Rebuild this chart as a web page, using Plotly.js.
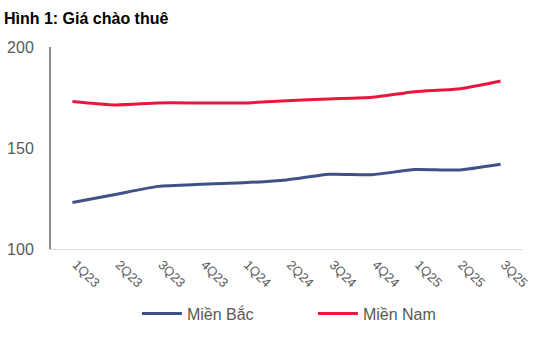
<!DOCTYPE html>
<html>
<head>
<meta charset="utf-8">
<script src="https://cdn.plot.ly/plotly-3.0.1.min.js"></script>
<style>html,body{margin:0;padding:0;background:#fff;}#chart{width:559px;height:343px;}</style>
</head>
<body>
<div id="chart"></div>
<script>
const quarters = ["1Q23","2Q23","3Q23","4Q23","1Q24","2Q24","3Q24","4Q24","1Q25","2Q25","3Q25"];
const mienBac = [123, 127, 131, 132, 132.8, 134.2, 137, 136.8, 139.3, 139.1, 142];
const mienNam = [173, 171.3, 172.3, 172.3, 172.3, 173.4, 174.3, 175.1, 177.9, 179.2, 183.2];

const traces = [
  {x: quarters, y: mienBac, name: "Miền Bắc", type: "scatter", mode: "lines",
   line: {color: "#3F5288", width: 3, shape: "spline", smoothing: 0.6}},
  {x: quarters, y: mienNam, name: "Miền Nam", type: "scatter", mode: "lines",
   line: {color: "#E8173F", width: 3, shape: "spline", smoothing: 0.6}}
];

const layout = {
  width: 559, height: 343,
  margin: {l: 51, r: 37, t: 47, b: 94, autoexpand: false},
  paper_bgcolor: "#fff", plot_bgcolor: "#fff",
  font: {family: "Liberation Sans, Arial, sans-serif", color: "#595959"},
  title: {text: "<b>Hình 1: Giá chào thuê</b>", x: 0.007, xanchor: "left", y: 0.945, yanchor: "middle",
          font: {size: 16, color: "#000", family: "Liberation Sans, Arial, sans-serif"}},
  showlegend: true,
  legend: {orientation: "h", x: 0.556, xanchor: "center", y: -0.32, yanchor: "middle",
           font: {size: 16, color: "#595959"}, itemwidth: 40, traceorder: "normal",
           entrywidth: 121, entrywidthmode: "pixels"},
  xaxis: {type: "category", range: [-0.5, 10.5], autorange: false, automargin: false,
          tickangle: 45, tickfont: {size: 13, color: "#595959"},
          showline: true, linecolor: "#d9d9d9", linewidth: 1, showgrid: false, ticks: "",
          zeroline: false, fixedrange: true, ticklabelshift: 4, ticklabelstandoff: 2},
  yaxis: {range: [100, 200], autorange: false, automargin: false, tickvals: [100, 150, 200],
          tickfont: {size: 16, color: "#595959"},
          showline: true, linecolor: "#8c8c8c", linewidth: 2, showgrid: false, ticks: "",
          zeroline: false, ticklabelstandoff: 12, fixedrange: true}
};

Plotly.newPlot("chart", traces, layout, {displayModeBar: false, staticPlot: true});
</script>
</body>
</html>
